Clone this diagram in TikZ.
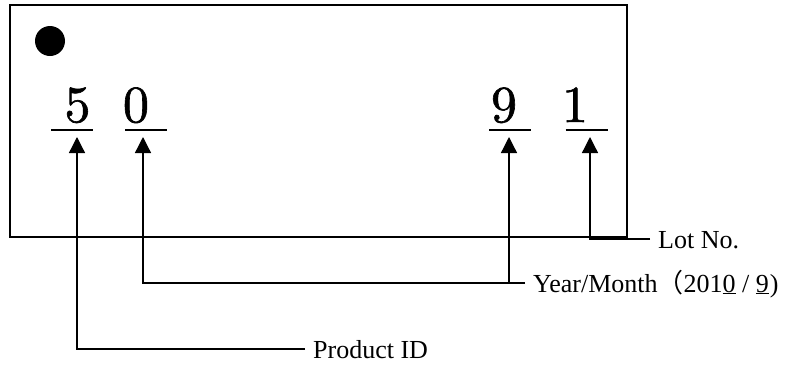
\documentclass[tikz,border=0pt]{standalone}
\usepackage{fontspec}
\newfontfamily\timesfont{Liberation Serif}
\newfontfamily\cjkfont{Noto Sans CJK JP}
\newfontfamily\digitfont[FakeBold=1.2]{lmroman10-regular.otf}
\usetikzlibrary{arrows.meta}

\tikzset{
	digit/.style={font=\digitfont\fontsize{52}{52}\selectfont, inner sep=0pt, anchor=base},
	caption/.style={font=\timesfont\fontsize{26}{30}\selectfont, anchor=west, inner xsep=8pt, inner ysep=0pt, text height=18pt, text depth=0pt},
	uline/.style={line width=1.8pt},
	pointer/.style={line width=1.3pt, -{Triangle[width=16pt,length=16pt]}}
}

\begin{document}
\begin{tikzpicture}[x=1pt,y=-1pt]
		\useasboundingbox (0,0) rectangle (790,365);
		% frame and dot
		\draw[line width=2pt] (10,5) rectangle (627,237);
		\fill (50,41) circle[radius=15];
		%
		\node[digit] (d5) at (77.5,122) {5};
		\node[digit] (d0) at (136,122) {0};
		\node[digit] (d9) at (504,122) {9};
		\node[digit] (d1) at (575,122) {1};
		\coordinate (u5) at (72,130);
		\coordinate (u0) at (146,130);
		\coordinate (u9) at (510,130);
		\coordinate (u1) at (586.5,130);
		\coordinate (a5) at (77,137);
		\coordinate (a0) at (143,137);
		\coordinate (a9) at (509,137);
		\coordinate (a1) at (590,137);
		%
		\node[caption] (lot) at (650,239) {Lot No.};
		\node[caption] (ym) at (525,283) {Year/Month{\cjkfont （}201\underline{0} / \underline{9}\kern1pt)};
		\node[caption] (pid) at (305,349) {Product ID};
		%
		% underlines
		\foreach \u in {u5,u0,u9,u1}
			\draw[uline] ([xshift=-21pt]\u) -- ([xshift=21pt]\u);
		% pointers
		\draw[pointer] (lot.west) -| (a1);
		\draw[pointer] (ym.west) -| (a0);
		\draw[pointer] (ym.west -| a9) -- (a9);
		\draw[pointer] (pid.west) -| (a5);
\end{tikzpicture}
\end{document}
